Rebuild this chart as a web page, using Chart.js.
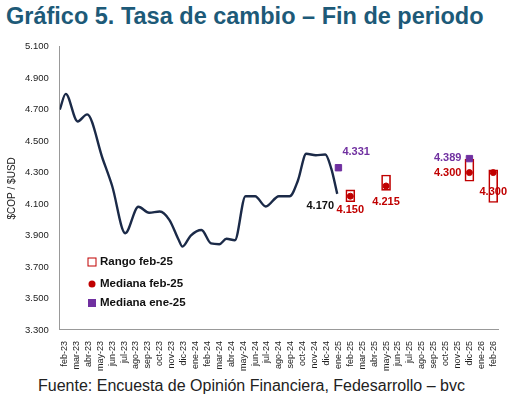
<!DOCTYPE html>
<html><head><meta charset="utf-8">
<script src="https://cdn.jsdelivr.net/npm/chart.js@4"></script>
<style>
body{margin:0;background:#fff;font-family:"Liberation Sans",Arial,sans-serif;width:516px;height:414px;overflow:hidden}
#t{position:absolute;left:6px;top:3px;font-size:23.5px;font-weight:bold;color:#1d5a78;white-space:nowrap}
#w{position:absolute;left:0;top:38px;width:516px;height:336px}
#f{position:absolute;left:38px;top:377px;font-size:16px;color:#222;white-space:nowrap}
</style></head><body>
<div id="t">Gráfico 5. Tasa de cambio – Fin de periodo</div>
<div id="w"><canvas id="c"></canvas></div>
<div id="f">Fuente: Encuesta de Opinión Financiera, Fedesarrollo – bvc</div>
<script>
const months = ["feb-23","mar-23","abr-23","may-23","jun-23","jul-23","ago-23","sep-23","oct-23","nov-23","dic-23","ene-24","feb-24","mar-24","abr-24","may-24","jun-24","jul-24","ago-24","sep-24","oct-24","nov-24","dic-24","ene-25","feb-25","mar-25","abr-25","may-25","jun-25","jul-25","ago-25","sep-25","oct-25","nov-25","dic-25","ene-26","feb-26"];
// observed exchange rate (x = month index, fractional)
const rateX = [-0.4,0.1,1.1,1.9,3.2,4.0,5.1,6.2,7.1,8.0,8.8,9.6,9.9,10.6,11.5,12.3,13.0,13.6,14.3,15.2,16.0,16.9,18.0,18.9,19.6,20.3,21.1,21.9,22.4,22.9];
const rateY = [4700,4800,4625,4670,4388,4215,3915,4083,4045,4053,4000,3870,3830,3900,3935,3850,3845,3880,3870,4150,4150,4085,4150,4150,4250,4420,4410,4415,4325,4165];
const medFebX = [24,27,34,36];
const medFebY = [4150,4215,4300,4300];
const rangeLo = [4115,4187,4245,4110];
const rangeHi = [4190,4285,4385,4317];
const medEneX = [23,34];
const medEneY = [4331,4389];
const yTicks = [3300,3500,3700,3900,4100,4300,4500,4700,4900,5100];

const red = "#c00000", purple = "#7030a0";
const fmt = v => String(v).replace(/(\d)(\d{3})$/, "$1.$2");

const labelsPlugin = {
  id: "lbl",
  afterDatasetsDraw(ch) {
    const c = ch.ctx, x = ch.scales.x, y = ch.scales.y;
    c.save();
    c.font = "bold 11px 'Liberation Sans', Arial";
    const put = (t, col, vx, vy, dx, dy, al) => {
      c.fillStyle = col; c.textAlign = al || "center"; c.textBaseline = "middle";
      c.fillText(t, x.getPixelForValue(vx) + dx, y.getPixelForValue(vy) + dy);
    };
    put("4.170", "#111", 22.9, 4165, -17, 12);
    put("4.331", purple, 23, 4331, 4, -16, "left");
    put("4.150", red, 24, 4115, 0, 8);
    put("4.215", red, 27, 4187, 0, 12);
    put("4.300", red, 34, 4300, -8, 0, "right");
    put("4.389", purple, 34, 4389, -8, -1, "right");
    put("4.300", red, 36, 4110, 0, -11);
    // legend
    const lx = 92;
    c.font = "bold 11.5px 'Liberation Sans', Arial";
    c.textAlign = "left";
    c.strokeStyle = red; c.lineWidth = 1;
    c.strokeRect(lx - 4, 262 - 38 - 4, 8, 8);
    c.fillStyle = "#111"; c.fillText("Rango feb-25", lx + 8, 262 - 38);
    c.fillStyle = red; c.beginPath(); c.arc(lx, 284 - 38, 3.5, 0, 7); c.fill();
    c.fillStyle = "#111"; c.fillText("Mediana feb-25", lx + 8, 284 - 38);
    c.fillStyle = purple; c.fillRect(lx - 4, 303 - 38 - 4, 8, 8);
    c.fillStyle = "#111"; c.fillText("Mediana ene-25", lx + 8, 303 - 38);
    c.restore();
  }
};

new Chart(document.getElementById("c"), {
  data: {
    datasets: [
      { type: "bar", data: medFebX.map((v, i) => ({ x: v, y: [rangeLo[i], rangeHi[i]] })),
        backgroundColor: "rgba(255,255,255,0)", borderColor: red, borderWidth: 1, borderSkipped: false,
        barThickness: 9, order: 3 },
      { type: "line", data: rateX.map((v, i) => ({ x: v, y: rateY[i] })), borderColor: "#1b2a48",
        borderWidth: 2.4, pointRadius: 0, tension: 0.4, cubicInterpolationMode: "monotone", order: 1 },
      { type: "scatter", data: medFebX.map((v, i) => ({ x: v, y: medFebY[i] })),
        backgroundColor: red, borderColor: red, pointRadius: 3, order: 0 },
      { type: "scatter", data: medEneX.map((v, i) => ({ x: v, y: medEneY[i] })),
        backgroundColor: purple, borderColor: purple, pointStyle: "rect", pointRadius: 4.5, order: 0 }
    ]
  },
  options: {
    responsive: true, maintainAspectRatio: false, animation: false,
    layout: { padding: { top: 6, right: 18, left: 2 } },
    plugins: { legend: { display: false }, tooltip: { enabled: false } },
    scales: {
      x: { type: "linear", min: -0.4, max: 36.4, offset: false,
        grid: { display: false, drawTicks: true }, border: { color: "#999" },
        afterBuildTicks: a => { a.ticks = months.map((m, i) => ({ value: i })); },
        ticks: { autoSkip: false, maxRotation: 90, minRotation: 90, color: "#222",
          font: { size: 9, family: "'Liberation Sans', Arial" }, callback: v => months[v] } },
      y: { min: 3300, max: 5100, grid: { display: false }, border: { color: "#999" },
        afterBuildTicks: a => { a.ticks = yTicks.map(v => ({ value: v })); },
        title: { display: true, text: "$COP / $USD", color: "#222", font: { size: 10, family: "'Liberation Sans', Arial" } },
        ticks: { color: "#222", font: { size: 9.5, family: "'Liberation Sans', Arial" }, callback: v => fmt(v) } }
    }
  },
  plugins: [labelsPlugin]
});
</script>
</body></html>
